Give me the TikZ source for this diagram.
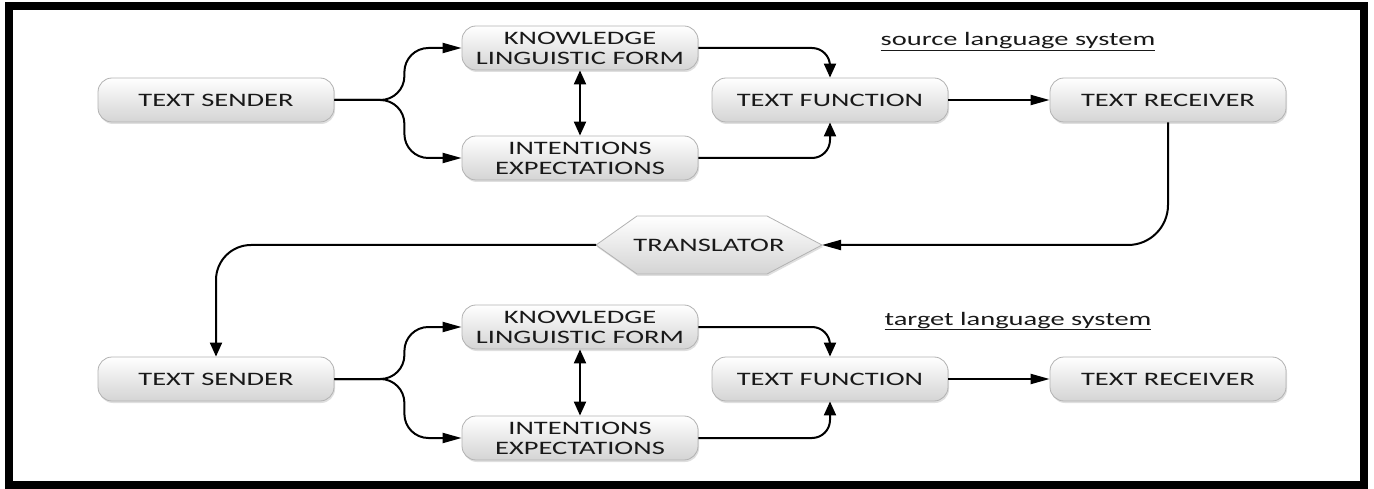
\documentclass[tikz,border=0pt]{standalone}
\usepackage{fontspec}
\setmainfont{Carlito}[FakeStretch=1.5]
\usepackage{tikz}
\usetikzlibrary{positioning, calc}
\usetikzlibrary{arrows.meta}
\usetikzlibrary{shadows, backgrounds}

\begin{document}
\begin{tikzpicture}[x=1pt,y=-1pt,line width=2pt,draw=black!100]
	\def \rowoneht{100}
	\def \rowtwoht{379}
	\tikzstyle{t-node}=[rectangle,rounded corners=14pt,draw=black!30,line width=0.8pt,top color=white,bottom color=black!17,text=black!90,minimum width=236pt,minimum height=44pt,inner sep=2pt,align=center,font=\fontsize{19}{20}\selectfont,drop shadow={shadow xshift=1pt,shadow yshift=-2pt,opacity=0.25}]
	\tikzstyle{h-node}=[rectangle,minimum width=224pt,minimum height=56pt,inner sep=0pt,text=black!90,font=\fontsize{19}{20}\selectfont]
	\tikzstyle{h-shape}=[draw=black!30,line width=0.8pt,top color=white,bottom color=black!17,drop shadow={shadow xshift=1pt,shadow yshift=-2pt,opacity=0.25}]
	\tikzstyle{annot}=[anchor=base,inner sep=0pt,text=black!90,font=\fontsize{19}{20}\selectfont]
	\tikzstyle{harr}=[-{Triangle[length=19pt,width=10pt]}]
	\tikzstyle{varr}=[-{Triangle[length=14pt,width=12pt]}]
	\tikzstyle{dvarr}=[{Triangle[length=14pt,width=12pt]}-{Triangle[length=14pt,width=12pt]}]
	\useasboundingbox (0,0) rectangle (1374,489);
	% frame
	\draw[line width=8pt] (9,6) rectangle (1364,485);
	% labels
	\node[annot] (srclbl) at (1018,46) {\underline{source language system}};
	\node[annot] (tgtlbl) at (1018,325) {\underline{target language system}};
	
	% source language system
	\node[t-node] 	(ts1)	at (216,\rowoneht)		{TEXT SENDER};
	\node[t-node] 	(kl1)	at (580,48)		{KNOWLEDGE\\LINGUISTIC FORM};
	\node[t-node] 	(ie1)	at (580,158)		{INTENTIONS\\EXPECTATIONS};
	\node[t-node] 	(tf1)	at (830,\rowoneht)		{TEXT FUNCTION};
	\node[t-node] 	(tr1)	at (1168,\rowoneht)	{TEXT RECEIVER};
	
	% translator
	\node[h-node] 	(trans)	at (709,245)		{TRANSLATOR};
	\begin{scope}[on background layer]
		\draw[h-shape] (trans.west) -- ([xshift=41pt]trans.north west) -- ([xshift=-55pt]trans.north east)
			-- (trans.east) -- ([xshift=-55pt]trans.south east) -- ([xshift=41pt]trans.south west) -- cycle;
	\end{scope}
	
	% target language system
	\node[t-node] 	(ts2)	at (216,\rowtwoht)		{TEXT SENDER};
	\node[t-node] 	(kl2)	at (580,327)		{KNOWLEDGE\\LINGUISTIC FORM};
	\node[t-node] 	(ie2)	at (580,438)		{INTENTIONS\\EXPECTATIONS};
	\node[t-node] 	(tf2)	at (830,\rowtwoht)		{TEXT FUNCTION};
	\node[t-node] 	(tr2)	at (1168,\rowtwoht)	{TEXT RECEIVER};
	
	% connectors
	\draw[harr,rounded corners=24pt]	(ts1.east) -- ++(70,0) |- (kl1.west);
	\draw[harr,rounded corners=24pt]	(ts1.east) -- ++(70,0) |- (ie1.west);
	\draw[dvarr]	(kl1.south) -- (ie1.north);
	\draw[varr,rounded corners=18pt]	(kl1.east) -| (tf1.north);
	\draw[varr,rounded corners=18pt]	(ie1.east) -| (tf1.south);
	\draw[harr]	(tf1.east) -- (tr1.west);
	\draw[harr,rounded corners=40pt]	(tr1.south) |- (trans.east);
	\draw[varr,rounded corners=35pt]	(trans.west) -| (ts2.north);
	%
	\draw[harr,rounded corners=24pt]	(ts2.east) -- ++(70,0) |- (kl2.west);
	\draw[harr,rounded corners=24pt]	(ts2.east) -- ++(70,0) |- (ie2.west);
	\draw[dvarr]	(kl2.south) -- (ie2.north);
	\draw[varr,rounded corners=18pt]	(kl2.east) -| (tf2.north);
	\draw[varr,rounded corners=18pt]	(ie2.east) -| (tf2.south);
	\draw[harr]	(tf2.east) -- (tr2.west);
\end{tikzpicture}
\end{document}
